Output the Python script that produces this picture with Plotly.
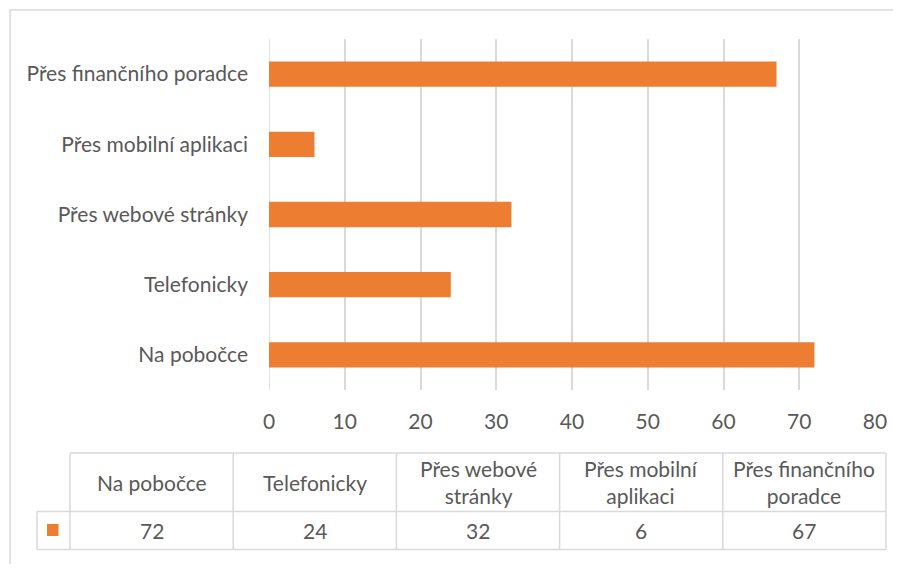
import plotly.graph_objects as go

# Data
categories = ["Na pobočce", "Telefonicky", "Přes webové stránky", "Přes mobilní aplikaci", "Přes finančního poradce"]
header_labels = ["Na pobočce", "Telefonicky", "Přes webové<br>stránky", "Přes mobilní<br>aplikaci", "Přes finančního<br>poradce"]
values = [72, 24, 32, 6, 67]
x_ticks = [0, 10, 20, 30, 40, 50, 60, 70, 80]

# page has an 8px body margin, so the figure is kept inside the window and coordinates are shifted
OFF = 8
W, H = 901 - 2 * OFF, 572 - 2 * OFF
BAR_COLOR = "#ED7D31"
TEXT_COLOR = "#595959"
LINE_COLOR = "#D9D9D9"
FONT = "Lato, Calibri, sans-serif"
FS = 21


def px(x):
    return (x - OFF) / W


def py(y):
    return 1 - (y - OFF) / H


fig = go.Figure()

fig.add_trace(
    go.Bar(
        x=values,
        y=categories,
        orientation="h",
        marker=dict(color=BAR_COLOR, line=dict(width=0)),
        width=0.36,
        showlegend=False,
        hovertemplate="%{y}: %{x}<extra></extra>",
    )
)

shapes = []
annotations = []

# Outer chart border (right and bottom sides run off the page)
shapes.append(dict(type="rect", xref="paper", yref="paper",
                   x0=px(10), x1=px(940), y0=py(600), y1=py(10),
                   line=dict(color=LINE_COLOR, width=1.5), layer="below"))

# Data table below the chart
col_left = 70
col_w = 163.2
legend_left = 37
top, mid, bottom = 453, 511.5, 549.5
n = len(categories)
right = col_left + n * col_w
tl = dict(color=LINE_COLOR, width=1.5)

# horizontal lines
shapes.append(dict(type="line", xref="paper", yref="paper", x0=px(col_left), x1=px(right), y0=py(top), y1=py(top), line=tl))
shapes.append(dict(type="line", xref="paper", yref="paper", x0=px(legend_left), x1=px(right), y0=py(mid), y1=py(mid), line=tl))
shapes.append(dict(type="line", xref="paper", yref="paper", x0=px(legend_left), x1=px(right), y0=py(bottom), y1=py(bottom), line=tl))
# vertical lines
shapes.append(dict(type="line", xref="paper", yref="paper", x0=px(legend_left), x1=px(legend_left), y0=py(mid), y1=py(bottom), line=tl))
for i in range(n + 1):
    xx = col_left + i * col_w
    shapes.append(dict(type="line", xref="paper", yref="paper", x0=px(xx), x1=px(xx), y0=py(top), y1=py(bottom), line=tl))

# legend key
shapes.append(dict(type="rect", xref="paper", yref="paper", x0=px(47), x1=px(58.5), y0=py(536), y1=py(524),
                   fillcolor=BAR_COLOR, line=dict(width=0)))

for i, (lab, v) in enumerate(zip(header_labels, values)):
    cx = col_left + (i + 0.5) * col_w
    annotations.append(dict(xref="paper", yref="paper", x=px(cx), y=py((top + mid) / 2), text=lab,
                            showarrow=False, xanchor="center", yanchor="middle", align="center",
                            font=dict(family=FONT, size=FS, color=TEXT_COLOR)))
    annotations.append(dict(xref="paper", yref="paper", x=px(cx), y=py((mid + bottom) / 2), text=str(v),
                            showarrow=False, xanchor="center", yanchor="middle",
                            font=dict(family=FONT, size=FS, color=TEXT_COLOR)))

fig.update_layout(
    width=W,
    height=H,
    margin=dict(l=0, r=0, t=0, b=0, pad=0, autoexpand=False),
    paper_bgcolor="white",
    plot_bgcolor="white",
    font=dict(family=FONT, size=FS, color=TEXT_COLOR),
    xaxis=dict(
        domain=[px(269), px(875)],
        range=[0, 80],
        tickvals=x_ticks,
        showgrid=True,
        gridcolor=LINE_COLOR,
        gridwidth=1.5,
        zeroline=False,
        showline=False,
        ticks="",
        ticklabelstandoff=17,
        automargin=False,
        fixedrange=True,
    ),
    yaxis=dict(
        domain=[py(390), py(39)],
        range=[-0.5, 4.5],
        showgrid=False,
        zeroline=False,
        showline=False,
        ticks="",
        ticklabelstandoff=20,
        automargin=False,
        fixedrange=True,
    ),
    shapes=shapes,
    annotations=annotations,
)

fig.add_shape(type="line", xref="x", yref="paper", x0=0, x1=0, y0=py(390), y1=py(39),
              line=dict(color=LINE_COLOR, width=1.5), layer="below")

fig.write_html("out.html")
